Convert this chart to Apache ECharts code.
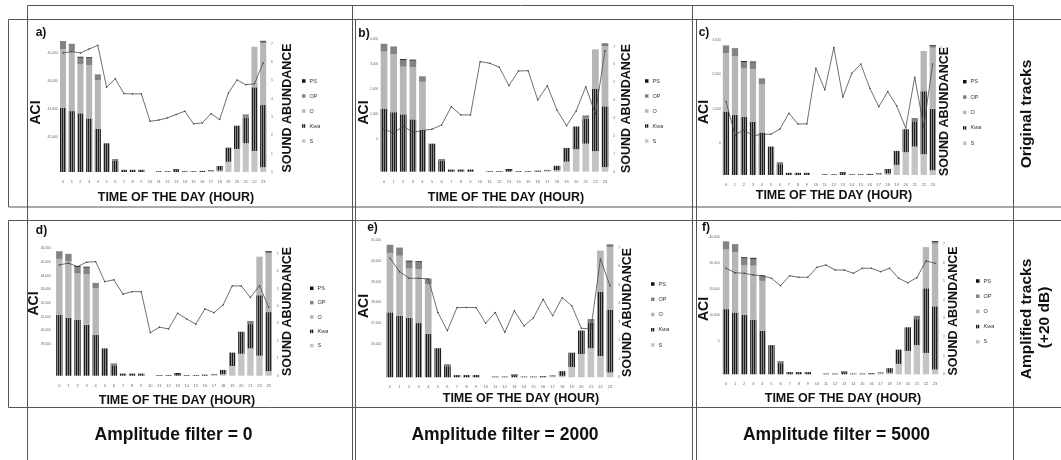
<!DOCTYPE html>
<html>
<head>
<meta charset="utf-8">
<script src="https://cdn.jsdelivr.net/npm/echarts@6/dist/echarts.min.js"></script>
<style>
html, body { margin: 0; padding: 0; background: #fff; }
#chart { width: 1061px; height: 460px; }
</style>
</head>
<body>
<div id="chart"></div>
<script>
// hours of the day
const hours = ['0', '1', '2', '3', '4', '5', '6', '7', '8', '9', '10', '11',
    '12', '13', '14', '15', '16', '17', '18', '19', '20', '21', '22', '23']

// sound abundance per hour, stacked bottom -> top: S, Kwa, O, OP, PS
const abundS = [0, 0, 0, 0, 0, 0, 0, 0, 0, 0, 0, 0,
    0, 0, 0, 0, 0, 0.06, 0.08, 0.56, 1.26, 1.57, 1.15, 0.26]
const abundKwa = [3.51, 3.33, 3.21, 2.93, 2.35, 1.57, 0.6, 0.12, 0.12, 0.12, 0, 0.04,
    0.04, 0.1, 0.04, 0.04, 0.06, 0.04, 0.25, 0.77, 1.27, 1.4, 3.48, 3.4]
const abundO = [3.21, 3.24, 2.67, 2.92, 2.68, 0, 0, 0, 0, 0, 0, 0,
    0, 0, 0, 0, 0, 0, 0, 0, 0, 0, 2.22, 3.37]
const abundOP = [0.44, 0.44, 0.37, 0.37, 0.31, 0, 0.11, 0, 0, 0, 0, 0,
    0, 0, 0, 0, 0, 0, 0, 0, 0, 0.18, 0, 0.1]
const abundPS = [0, 0, 0.05, 0.05, 0, 0, 0, 0, 0, 0, 0, 0,
    0, 0.05, 0, 0, 0, 0, 0, 0, 0, 0, 0, 0.04]

// ACI per hour, one list per panel
const aciA = [45020, 45060, 45020, 45160, 45290, 43790, 44090, 43560, 43550, 43550, 42570, 42610,
    42690, 42810, 42930, 42480, 42510, 42840, 42630, 43580, 44050, 43880, 43910, 44660]
const aciB = [410, 240, 530, 270, 350, 400, 570, 1300, 970, 970, 3100, 3040,
    2880, 2140, 2730, 2740, 1570, 2140, 1170, 540, 1130, 2100, 1010, 3540]
const aciC = [1210, 240, 390, 210, 260, 260, 410, 870, 560, 560, 2180, 1550,
    2780, 1340, 2030, 2300, 1600, 1060, 1500, 1080, 440, 1920, 480, 2300]
const aciD = [44780, 44910, 44660, 44980, 45020, 43560, 43690, 42650, 42830, 42830, 39840, 40240,
    40110, 41260, 40840, 40460, 41570, 41300, 41860, 43250, 43250, 42400, 43270, 41700]
const aciE = [40120, 39480, 39160, 39160, 39130, 37520, 36640, 37750, 37760, 37750, 37000, 37520,
    36560, 37600, 36870, 37260, 38150, 37360, 38230, 37840, 36760, 36720, 40090, 38790]
const aciF = [28040, 26340, 26110, 25450, 25180, 24180, 21330, 25180, 24570, 24570, 28420, 29310,
    27380, 27380, 26110, 28040, 28040, 26730, 28040, 24180, 22480, 24410, 30850, 29970]

// ACI tick labels shown on each panel
const ticksA = [42000, 43000, 44000, 45000]
const ticksB = [0, 1000, 2000, 3000, 4000]
const ticksC = [0, 1000, 2000, 3000]
const ticksD = [39000, 40000, 41000, 42000, 43000, 44000, 45000, 46000]
const ticksE = [36000, 37000, 38000, 39000, 40000, 41000]
const ticksF = [0, 10000, 20000, 30000, 40000]

const legendNames = ['PS', 'OP', 'O', 'Kwa', 'S']

const panels = [
    { tag: 'a)', aci: aciA, ticks: ticksA, left: 58.7, width: 208.8, top: 34.8, bottom: 172,
      aciMin: 40750, aciMax: 45668, aciStep: 250, lm: 1, legend: [302, 78, 9],
      tagAt: [41, 33], aciAt: [36, 112.5], soundAt: [287.5, 108], timeAt: [176, 197.5] },
    { tag: 'b)', aci: aciB, ticks: ticksB, left: 379.2, width: 230.6, top: 37.7, bottom: 171.7,
      aciMin: -1300, aciMax: 4060, aciStep: 100, lm: 1, legend: [645, 78, 9],
      tagAt: [364, 33.5], aciAt: [364, 112.5], soundAt: [627, 108.5], timeAt: [506, 197.5] },
    { tag: 'c)', aci: aciC, ticks: ticksC, left: 721.5, width: 215.7, top: 39.25, bottom: 175,
      aciMin: -925, aciMax: 3021, aciStep: 25, lm: 1, legend: [963, 78.7, 9.4],
      tagAt: [704, 33], aciAt: [704, 112], soundAt: [944.5, 111.5], timeAt: [834, 195.5] },
    { tag: 'd)', aci: aciD, ticks: ticksD, left: 54.75, width: 218.4, top: 245.35, bottom: 375.7,
      aciMin: 36700, aciMax: 46208, aciStep: 100, lm: 4, legend: [310, 285.3, 8.35],
      tagAt: [41.5, 230.7], aciAt: [34, 303.5], soundAt: [288, 311.5], timeAt: [177, 400.7] },
    { tag: 'e)', aci: aciE, ticks: ticksE, left: 385.2, width: 229.6, top: 238.5, bottom: 377.3,
      aciMin: 34400, aciMax: 41073, aciStep: 100, lm: 4, legend: [651, 281, 9.25],
      tagAt: [372.5, 228], aciAt: [364, 306], soundAt: [627.5, 312.5], timeAt: [521, 399] },
    { tag: 'f)', aci: aciF, ticks: ticksF, left: 721.5, width: 218.1, top: 235, bottom: 374.3,
      aciMin: -12850, aciMax: 40872, aciStep: 50, lm: 2, legend: [976, 278, 9.2],
      tagAt: [706, 228], aciAt: [704, 309], soundAt: [953.5, 311], timeAt: [843, 399] }
]

// vertical black stripes on grey for Kwa
function stripes() {
    const c = document.createElement('canvas')
    c.width = 2
    c.height = 4
    const g = c.getContext('2d')
    g.fillStyle = '#8a8a8a'
    g.fillRect(0, 0, 2, 4)
    g.fillStyle = '#1e1e1e'
    g.fillRect(0, 0, 1, 4)
    return c
}

const barColors = {
    S: '#c4c4c4',
    Kwa: { image: stripes(), repeat: 'repeat' },
    O: '#b6b6b6',
    OP: '#838383',
    PS: '#111111'
}
const barData = { S: abundS, Kwa: abundKwa, O: abundO, OP: abundOP, PS: abundPS }

const FONT = '"Liberation Sans", Arial, sans-serif'

const grid = []
const xAxis = []
const yAxis = []
const series = []
const legend = []
const graphic = []

function text(str, x, y, size, opts) {
    graphic.push({
        type: 'text',
        x: x,
        y: y,
        rotation: opts && opts.rotate ? Math.PI / 2 : 0,
        silent: true,
        style: {
            text: str,
            fontSize: size,
            fontWeight: opts && opts.normal ? 'normal' : 'bold',
            fontFamily: FONT,
            fill: '#111',
            align: 'center',
            verticalAlign: 'middle'
        }
    })
}

panels.forEach((p, i) => {
    grid.push({ left: p.left, top: p.top, width: p.width, height: p.bottom - p.top })

    xAxis.push({
        type: 'category',
        gridIndex: i,
        data: hours,
        axisLine: { show: false },
        axisTick: { show: false },
        axisLabel: { interval: 0, fontSize: 4, color: '#666', margin: 8, fontFamily: FONT }
    })

    yAxis.push({
        type: 'value',
        gridIndex: i,
        position: 'left',
        min: p.aciMin,
        max: p.aciMax,
        interval: p.aciStep,
        axisLine: { show: false },
        axisTick: { show: false },
        splitLine: { show: false },
        axisLabel: {
            fontSize: 3.3,
            color: '#666',
            margin: p.lm,
            fontFamily: FONT,
            formatter: v => (p.ticks.includes(v) ? v.toLocaleString('en-US') : '')
        }
    })

    yAxis.push({
        type: 'value',
        gridIndex: i,
        position: 'right',
        min: 0,
        max: 7.5,
        interval: 1,
        axisLine: { show: false },
        axisTick: { show: false },
        splitLine: { show: false },
        axisLabel: {
            fontSize: 3.3,
            color: '#666',
            margin: 3.5,
            fontFamily: FONT,
            formatter: v => (Number.isInteger(v) ? String(v) : '')
        }
    })

    ;['S', 'Kwa', 'O', 'OP', 'PS'].forEach(name => {
        series.push({
            name: name,
            type: 'bar',
            xAxisIndex: i,
            yAxisIndex: i * 2 + 1,
            stack: 'abund' + i,
            barWidth: '70%',
            data: barData[name],
            itemStyle: { color: barColors[name] },
            silent: true
        })
    })

    series.push({
        name: 'ACI',
        type: 'line',
        xAxisIndex: i,
        yAxisIndex: i * 2,
        data: p.aci,
        symbol: 'circle',
        symbolSize: 1.5,
        clip: false,
        z: 5,
        lineStyle: { color: '#4a4a4a', width: 0.8 },
        itemStyle: { color: '#3a3a3a' }
    })

    legend.push({
        data: legendNames,
        orient: 'vertical',
        left: p.legend[0],
        top: p.legend[1],
        itemGap: p.legend[2],
        itemWidth: 3.5,
        itemHeight: 3.5,
        padding: 0,
        selectedMode: false,
        icon: 'rect',
        formatter: n => (n === 'Kwa' ? '{i|Kwa}' : n),
        textStyle: {
            fontSize: 5.5,
            lineHeight: 6,
            color: '#333',
            fontFamily: FONT,
            padding: [0, 0, 0, -1],
            rich: { i: { fontStyle: 'italic', fontSize: 5.5, color: '#333', fontFamily: FONT } }
        }
    })

    text(p.tag, p.tagAt[0], p.tagAt[1], 12)
    text('ACI', p.aciAt[0], p.aciAt[1], 14, { rotate: true })
    text('SOUND ABUNDANCE', p.soundAt[0], p.soundAt[1], 12.5, { rotate: true })
    text('TIME OF THE DAY (HOUR)', p.timeAt[0], p.timeAt[1], 12.5)
})

text('Amplitude filter = 0', 173.5, 434.7, 17.5)
text('Amplitude filter = 2000', 505, 434.7, 17.5)
text('Amplitude filter = 5000', 836.5, 435, 17.5)
text('Original tracks', 1027, 114, 15.5, { rotate: true })
text('Amplified tracks', 1026.7, 319, 15.5, { rotate: true })
text('(+20 dB)', 1044.5, 317.5, 15.5, { rotate: true })

// table frame
const frame = [
    [27, 5, 1013, 5], [8, 19, 1061, 19], [8, 206.5, 1061, 206.5], [8, 220, 1061, 220], [8, 407, 1061, 407],
    [27, 5, 27, 460], [8, 19, 8, 206.5], [8, 220, 8, 407],
    [352, 5, 352, 460], [355, 19, 355, 460],
    [692, 5, 692, 460], [696, 19, 696, 460],
    [1013, 5, 1013, 460]
]
frame.forEach(l => {
    graphic.push({
        type: 'line',
        silent: true,
        shape: { x1: l[0] + 0.5, y1: l[1] + 0.5, x2: l[2] + 0.5, y2: l[3] + 0.5 },
        style: { stroke: '#555', lineWidth: 1 }
    })
})

const chart = echarts.init(document.getElementById('chart'))
chart.setOption({
    animation: false,
    backgroundColor: '#fff',
    grid: grid,
    xAxis: xAxis,
    yAxis: yAxis,
    legend: legend,
    series: series,
    graphic: graphic
})
</script>
</body>
</html>
